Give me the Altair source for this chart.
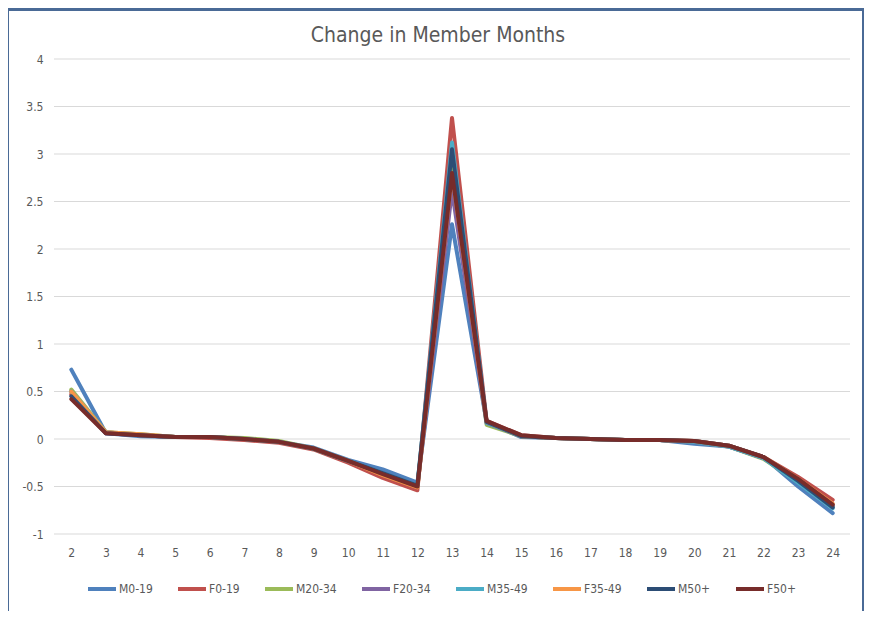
import altair as alt
import pandas as pd

months = list(range(2, 25))
y_ticks = [-1, -0.5, 0, 0.5, 1, 1.5, 2, 2.5, 3, 3.5, 4]
title_text = ["Change in Member Months"]
series_names = ["M0-19", "F0-19", "M20-34", "F20-34", "M35-49", "F35-49", "M50+", "F50+"]
colors = ["#4F81BD", "#C0504D", "#9BBB59", "#8064A2", "#4BACC6", "#F79646", "#2C4D75", "#772C2A"]

m0_19  = [0.73, 0.06, 0.03, 0.02, 0.02, 0.00, -0.03, -0.09, -0.22, -0.32, -0.46, 2.26, 0.18, 0.02, 0.01, 0.00, -0.01, -0.01, -0.05, -0.08, -0.19, -0.50, -0.78]
f0_19  = [0.47, 0.07, 0.04, 0.02, 0.01, -0.01, -0.04, -0.11, -0.25, -0.41, -0.54, 3.38, 0.19, 0.04, 0.01, 0.00, -0.01, -0.01, -0.02, -0.07, -0.19, -0.40, -0.64]
m20_34 = [0.52, 0.07, 0.05, 0.02, 0.02, 0.01, -0.02, -0.10, -0.23, -0.37, -0.50, 2.90, 0.15, 0.03, 0.01, 0.00, -0.01, -0.01, -0.03, -0.08, -0.21, -0.45, -0.71]
f20_34 = [0.50, 0.06, 0.04, 0.02, 0.02, 0.00, -0.03, -0.10, -0.23, -0.37, -0.50, 2.62, 0.17, 0.03, 0.01, 0.00, -0.01, -0.01, -0.03, -0.08, -0.20, -0.44, -0.70]
m35_49 = [0.50, 0.07, 0.04, 0.02, 0.02, 0.00, -0.03, -0.10, -0.23, -0.36, -0.49, 3.12, 0.17, 0.03, 0.01, 0.00, -0.01, -0.01, -0.03, -0.08, -0.20, -0.46, -0.73]
f35_49 = [0.50, 0.07, 0.05, 0.02, 0.02, 0.00, -0.03, -0.10, -0.23, -0.38, -0.51, 2.80, 0.18, 0.03, 0.01, 0.00, -0.01, -0.01, -0.02, -0.07, -0.19, -0.42, -0.68]
m50p   = [0.45, 0.06, 0.04, 0.02, 0.02, 0.00, -0.03, -0.10, -0.23, -0.36, -0.49, 3.05, 0.18, 0.03, 0.01, 0.00, -0.01, -0.01, -0.02, -0.07, -0.19, -0.44, -0.72]
f50p   = [0.42, 0.06, 0.04, 0.02, 0.02, 0.00, -0.03, -0.10, -0.23, -0.37, -0.50, 2.80, 0.19, 0.04, 0.01, 0.00, -0.01, -0.01, -0.02, -0.07, -0.19, -0.42, -0.69]

all_series = [m0_19, f0_19, m20_34, f20_34, m35_49, f35_49, m50p, f50p]

rows = []
for i, (name, vals) in enumerate(zip(series_names, all_series)):
    for m, v in zip(months, vals):
        rows.append({"month": m, "value": v, "series": name, "order": i})
df = pd.DataFrame(rows)

W, H = 796, 475
FONT = "DejaVu Sans Condensed, Liberation Sans, sans-serif"
TXT = "#595959"

yscale = alt.Scale(domain=[-1, 4], nice=False)
yaxis = alt.Axis(values=y_ticks, labelExpr="toString(datum.value)", grid=False, ticks=False,
                 domain=False, title=None, labelFontSize=12, labelColor=TXT, labelPadding=11,
                 labelFont=FONT, zindex=1)

frame = alt.Chart(pd.DataFrame({"a": [0]})).mark_rect(color="white", clip=False).encode(
    x=alt.value(-45), x2=alt.value(W + 12), y=alt.value(-48), y2=alt.value(H + 77)
)

title = alt.Chart(pd.DataFrame({"t": title_text})).mark_text(
    font=FONT, fontSize=21, color=TXT, align="center", baseline="alphabetic", clip=False
).encode(text="t:N", x=alt.value(384), y=alt.value(-17))

grid = alt.Chart(pd.DataFrame({"g": y_ticks})).mark_rule(color="#D9D9D9", strokeWidth=1).encode(
    y=alt.Y("g:Q", scale=yscale, axis=yaxis),
    x=alt.value(0), x2=alt.value(W),
)

lines = alt.Chart(df).mark_line(strokeWidth=4, strokeCap="round", strokeJoin="round").encode(
    x=alt.X("month:Q", scale=alt.Scale(domain=[1.5, 24.5], nice=False, zero=False),
            axis=alt.Axis(values=months, grid=False, ticks=False, domain=False, title=None,
                          labelFontSize=12, labelColor=TXT, labelPadding=13,
                          labelFont=FONT, zindex=1)),
    y=alt.Y("value:Q", scale=yscale, axis=yaxis),
    color=alt.Color("series:N", scale=alt.Scale(domain=series_names, range=colors),
                    legend=alt.Legend(orient="none", legendX=32, legendY=514, direction="horizontal",
                                      title=None, symbolType="stroke", symbolSize=784,
                                      symbolStrokeWidth=4, labelFontSize=12, labelColor=TXT,
                                      labelFont=FONT, labelOffset=1,
                                      columnPadding=17, columns=8, zindex=1)),
    order=alt.Order("order:Q"),
    detail="series:N",
)

chart = alt.layer(frame, title, grid, lines).properties(
    width=W, height=H,
    autosize=alt.AutoSizeParams(type="none"),
    padding={"left": 46, "top": 51, "right": 14, "bottom": 77},
    background="#4A6A96",
).configure_view(stroke=None)

chart.save("out.html", embed_options={"renderer": "svg", "actions": False})
